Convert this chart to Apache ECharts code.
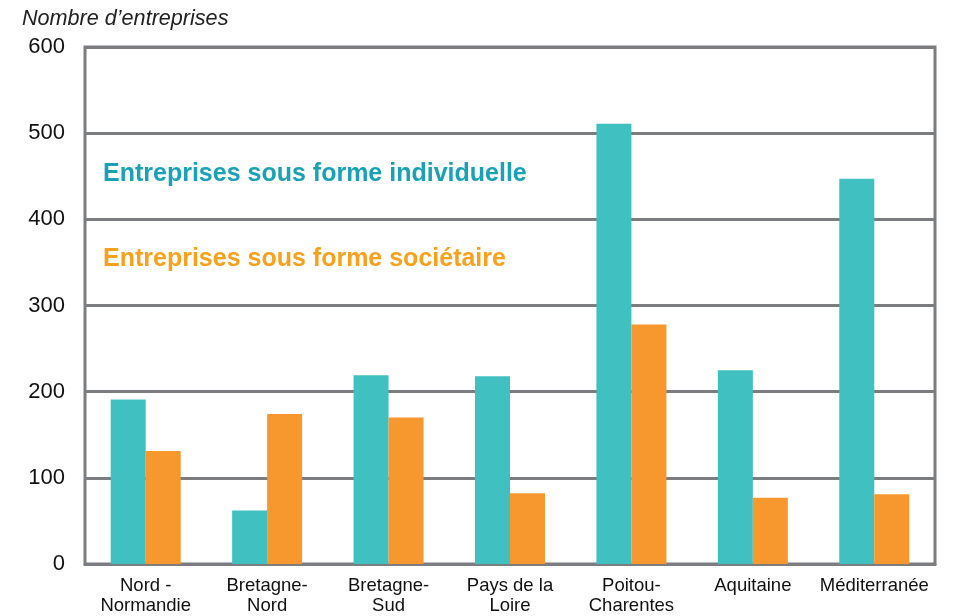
<!DOCTYPE html>
<html>
<head>
<meta charset="utf-8">
<script src="https://cdn.jsdelivr.net/npm/echarts@6/dist/echarts.min.js"></script>
<style>
  html, body { margin: 0; padding: 0; background: #fff; }
  #chart { width: 955px; height: 616px; }
</style>
</head>
<body>
<div id="chart"></div>
<script>
const regions = ["Nord -\nNormandie", "Bretagne-\nNord", "Bretagne-\nSud", "Pays de la\nLoire", "Poitou-\nCharentes", "Aquitaine", "Méditerranée"];
const individuelle = [191, 62, 219, 218, 511, 225, 447];
const societaire = [131, 174, 170, 82, 278, 77, 81];
const yTicks = [0, 100, 200, 300, 400, 500, 600];

const gridColor = "#7b7d80";
const font = "Liberation Sans, Arial, sans-serif";

const chart = echarts.init(document.getElementById("chart"));

chart.setOption({
  animation: false,
  grid: {
    left: 85,
    right: 20,
    top: 47,
    bottom: 47,
    show: true,
    borderColor: gridColor,
    borderWidth: 3,
    backgroundColor: "transparent"
  },
  graphic: [
    {
      type: "text",
      left: 22,
      top: 8,
      style: { text: "Nombre d\u2019entreprises", fill: "#222", font: "italic 21.6px " + font }
    },
    {
      type: "text",
      left: 103,
      top: 162,
      style: { text: "Entreprises sous forme individuelle", fill: "#1ba1b6", font: "bold 25px " + font }
    },
    {
      type: "text",
      left: 103,
      top: 247,
      style: { text: "Entreprises sous forme sociétaire", fill: "#f7a11d", font: "bold 25px " + font }
    }
  ],
  xAxis: {
    type: "category",
    data: regions,
    axisTick: { show: false },
    axisLine: { lineStyle: { color: gridColor, width: 3 } },
    axisLabel: {
      color: "#111",
      fontFamily: font,
      fontSize: 18.5,
      lineHeight: 20,
      margin: 12,
      interval: 0
    }
  },
  yAxis: {
    type: "value",
    min: 0,
    max: 600,
    interval: 100,
    axisLine: { show: false },
    axisTick: { show: false },
    axisLabel: {
      color: "#111",
      fontFamily: font,
      fontSize: 22,
      margin: 20,
      formatter: v => yTicks.includes(v) ? String(v) : ""
    },
    splitLine: { lineStyle: { color: gridColor, width: 3 } }
  },
  series: [
    {
      name: "Entreprises sous forme individuelle",
      type: "bar",
      data: individuelle,
      barWidth: 35,
      barGap: "0%",
      itemStyle: { color: "#41c0c2" }
    },
    {
      name: "Entreprises sous forme sociétaire",
      type: "bar",
      data: societaire,
      barWidth: 35,
      itemStyle: { color: "#f7982e" }
    }
  ]
});
</script>
</body>
</html>
